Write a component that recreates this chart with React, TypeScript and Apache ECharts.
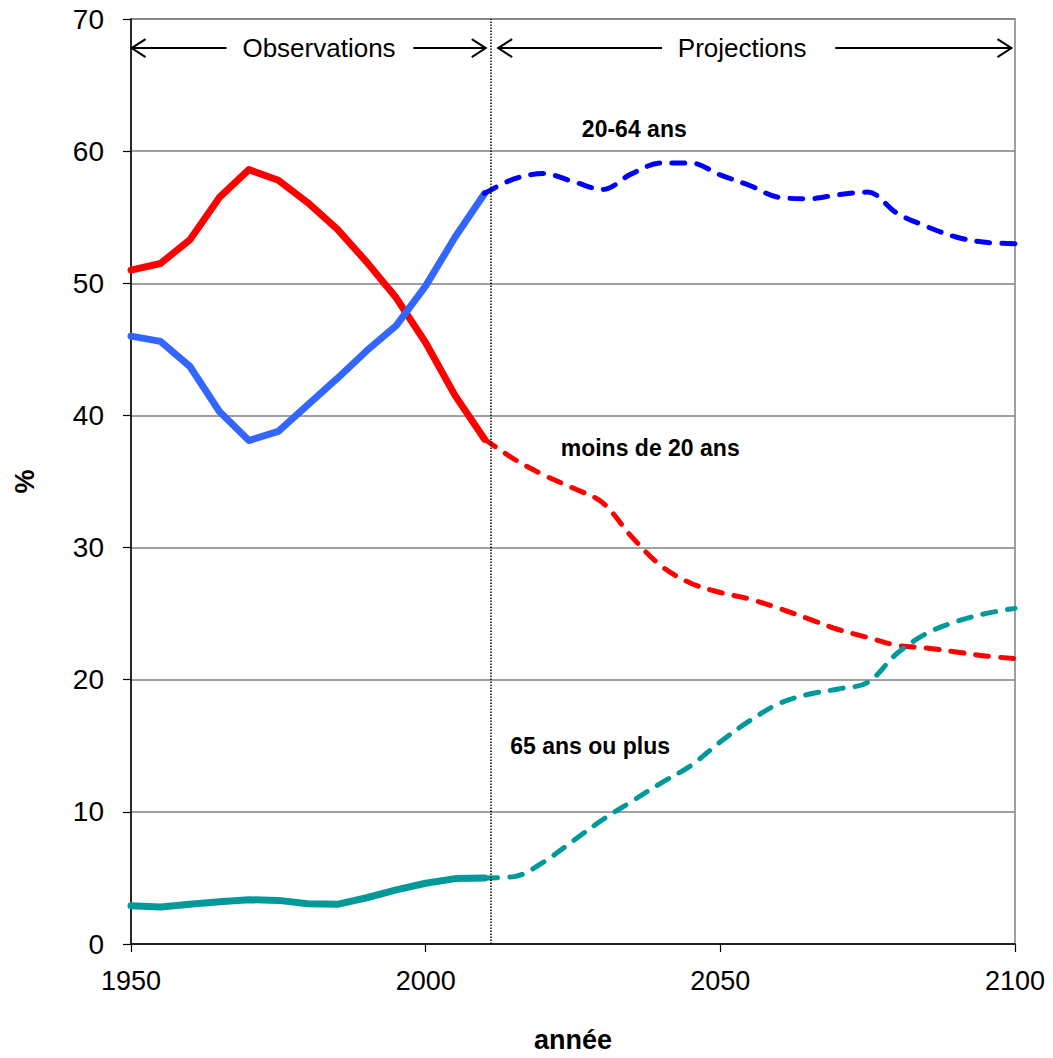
import React, { useEffect, useRef } from "react";
import * as echarts from "echarts";

const FONT = '"Liberation Sans", Arial, sans-serif';

const obsYears = [1950, 1955, 1960, 1965, 1970, 1975, 1980, 1985, 1990, 1995, 2000, 2005, 2010];
const projYears = [2010, 2015, 2020, 2025, 2030, 2035, 2040, 2045, 2050, 2055, 2060, 2065, 2070, 2075, 2080, 2085, 2090, 2095, 2100];

const under20Obs = [51.0, 51.5, 53.3, 56.5, 58.6, 57.8, 56.1, 54.1, 51.6, 48.9, 45.5, 41.5, 38.2];
const under20Proj = [38.2, 36.7, 35.5, 34.5, 33.4, 30.8, 28.6, 27.3, 26.6, 26.1, 25.4, 24.6, 23.8, 23.2, 22.6, 22.4, 22.1, 21.8, 21.6];

const age2064Obs = [46.0, 45.6, 43.7, 40.3, 38.1, 38.8, 40.8, 42.8, 44.9, 46.8, 49.8, 53.5, 56.8];
const age2064Proj = [56.8, 57.9, 58.3, 57.7, 57.1, 58.3, 59.1, 59.1, 58.2, 57.4, 56.5, 56.4, 56.7, 56.9, 55.3, 54.3, 53.5, 53.1, 53.0];

const age65Obs = [2.9, 2.8, 3.0, 3.2, 3.35, 3.3, 3.05, 3.0, 3.5, 4.1, 4.6, 4.95, 5.0];
const age65Proj = [5.0, 5.1, 6.2, 7.8, 9.4, 10.8, 12.2, 13.5, 15.3, 16.9, 18.2, 18.9, 19.3, 19.8, 22.0, 23.5, 24.4, 25.0, 25.4];

const seriesNames = ["moins de 20 ans", "20-64 ans", "65 ans ou plus"];
const headerNames = ["Observations", "Projections"];
const splitYear = 2011;

// annotation anchors in data coordinates [year, value]
const labelAnchors: [number, number][] = [
  [2038.1, 37.5],
  [2035.4, 61.7],
  [2027.9, 15.0],
];
const headerY = 67.8;
const headerTextX = [1981.9, 2053.7];
// arrows: [fromYear, toYear, headDirection]
const arrowSpans: [number, number, "left" | "right"][] = [
  [1950.1, 1966.2, "left"],
  [1997.9, 2010.2, "right"],
  [2012.3, 2040.1, "left"],
  [2069.5, 2099.4, "right"],
];

function pairs(xs: number[], ys: number[]) {
  return xs.map((x, i) => [x, ys[i]]);
}

export default function App() {
  const ref = useRef<HTMLDivElement>(null);

  useEffect(() => {
    if (!ref.current) return;
    const chart = echarts.init(ref.current, undefined, { renderer: "svg" });

    const obsStyle = (color: string) => ({
      type: "line" as const,
      symbol: "none",
      smooth: false,
      lineStyle: { color, width: 7, cap: "round" as const, join: "round" as const },
      itemStyle: { color },
      z: 3,
    });
    const projStyle = (color: string) => ({
      type: "line" as const,
      symbol: "none",
      smooth: 0.35,
      lineStyle: { color, width: 5, type: [13, 12], cap: "round" as const },
      itemStyle: { color },
      z: 3,
    });

    chart.setOption({
      animation: false,
      backgroundColor: "#fff",
      grid: {
        left: 131,
        right: 38,
        top: 19,
        bottom: 112,
        show: true,
        borderColor: "#808080",
        borderWidth: 1.5,
        backgroundColor: "transparent",
      },
      xAxis: {
        type: "value",
        min: 1950,
        max: 2100,
        interval: 50,
        axisLine: { show: true, onZero: false, lineStyle: { color: "#000", width: 1.5 } },
        axisTick: { show: true, length: 8, lineStyle: { color: "#000", width: 1.2 } },
        splitLine: { show: false },
        axisLabel: {
          fontSize: 27,
          color: "#000",
          fontFamily: FONT,
          margin: 23,
          formatter: (v: number) => String(v),
        },
        name: "année",
        nameLocation: "middle",
        nameGap: 82,
        nameTextStyle: { fontSize: 27, fontWeight: "bold", color: "#000", fontFamily: FONT },
      },
      yAxis: {
        type: "value",
        min: 0,
        max: 70,
        interval: 10,
        axisLine: { show: true, lineStyle: { color: "#000", width: 1.5 } },
        axisTick: { show: true, length: 8, lineStyle: { color: "#000", width: 1.2 } },
        splitLine: { show: true, lineStyle: { color: "#808080", width: 1.5 } },
        axisLabel: { fontSize: 28, color: "#000", fontFamily: FONT, margin: 27 },
        name: "%",
        nameLocation: "middle",
        nameGap: 93,
        nameRotate: 90,
        nameTextStyle: { fontSize: 27, fontWeight: "bold", color: "#000", fontFamily: FONT },
      },
      series: [
        {
          name: seriesNames[0] + " obs",
          ...obsStyle("#FF0000"),
          data: pairs(obsYears, under20Obs),
          markLine: {
            silent: true,
            symbol: "none",
            label: { show: false },
            lineStyle: { type: "dotted", color: "#000", width: 1.5 },
            data: [{ xAxis: splitYear }],
          },
        },
        { name: seriesNames[0] + " proj", ...projStyle("#FF0000"), data: pairs(projYears, under20Proj) },
        { name: seriesNames[1] + " obs", ...obsStyle("#3366FF"), data: pairs(obsYears, age2064Obs) },
        { name: seriesNames[1] + " proj", ...projStyle("#0000FF"), data: pairs(projYears, age2064Proj) },
        { name: seriesNames[2] + " obs", ...obsStyle("#009999"), data: pairs(obsYears, age65Obs) },
        { name: seriesNames[2] + " proj", ...projStyle("#009999"), data: pairs(projYears, age65Proj) },
      ],
    });

    const px = (x: number, y: number) =>
      chart.convertToPixel({ gridIndex: 0 }, [x, y]) as number[];

    const graphics: any[] = [];
    labelAnchors.forEach((a, i) => {
      const [x, y] = px(a[0], a[1]);
      graphics.push({
        type: "text",
        x,
        y,
        z: 10,
        style: {
          text: seriesNames[i],
          align: "center",
          verticalAlign: "middle",
          fontSize: 23,
          fontWeight: "bold",
          fontFamily: FONT,
          fill: "#000",
        },
      });
    });
    headerTextX.forEach((hx, i) => {
      const [x, y] = px(hx, headerY);
      graphics.push({
        type: "text",
        x,
        y,
        z: 10,
        style: {
          text: headerNames[i],
          align: "center",
          verticalAlign: "middle",
          fontSize: 26,
          fontFamily: FONT,
          fill: "#000",
        },
      });
    });
    arrowSpans.forEach(([a, b, dir]) => {
      const [x1, y] = px(a, headerY);
      const [x2] = px(b, headerY);
      graphics.push({
        type: "line",
        z: 10,
        shape: { x1, y1: y, x2, y2: y },
        style: { stroke: "#000", lineWidth: 2 },
      });
      const tip = dir === "left" ? x1 : x2;
      const back = dir === "left" ? tip + 14 : tip - 14;
      graphics.push({
        type: "polyline",
        z: 10,
        shape: { points: [[back, y - 9], [tip, y], [back, y + 9]] },
        style: { stroke: "#000", lineWidth: 2, fill: null },
      });
    });

    chart.setOption({ graphic: graphics });

    return () => chart.dispose();
  }, []);

  return (
    <div
      ref={ref}
      style={{ position: "fixed", left: 0, top: 0, width: 1053, height: 1058 }}
    />
  );
}
